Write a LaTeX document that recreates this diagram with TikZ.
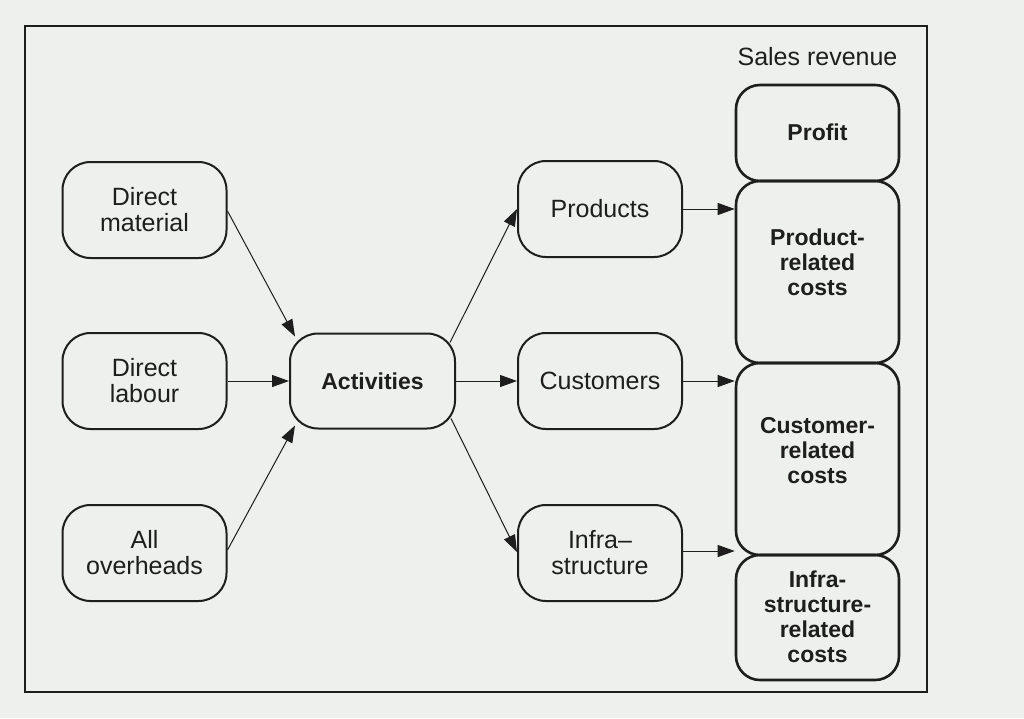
\documentclass[tikz,border=0pt]{standalone}
\usepackage{fontspec}
\setmainfont{Liberation Sans}
\usetikzlibrary{arrows.meta}
\definecolor{bg}{RGB}{238,240,237}
\definecolor{ink}{RGB}{30,30,30}
\begin{document}
\begin{tikzpicture}[x=1pt,y=-1pt,
 box/.style={draw=ink, line width=2pt, rounded corners=28pt, minimum width=164pt, minimum height=96pt, inner sep=0pt, align=center, font=\fontsize{25}{26}\selectfont, text=ink},
 rbox/.style={draw=ink, line width=2.6pt, rounded corners=24pt, minimum width=163pt, inner sep=0pt},
 rtext/.style={align=center, font=\bfseries\fontsize{23}{25}\selectfont, text=ink, inner sep=0pt},
 conn/.style={draw=ink, line width=1pt, -{Triangle[length=17pt,width=12pt]}}]
\fill[bg] (0,0) rectangle (1024,718);
\useasboundingbox (0,0) rectangle (1024,718);
\draw[ink, line width=2pt] (25,26) rectangle (927,692);

\node[box] (dm) at (144.5,210) {Direct\\material};
\node[box] (dl) at (144.5,381) {Direct\\labour};
\node[box] (ao) at (144.5,553) {All\\overheads};
\node[box, font=\bfseries\fontsize{23}{26}\selectfont, minimum width=165pt, minimum height=95pt] (act) at (372.5,381) {Activities};
\node[box] (prod) at (600,209) {Products};
\node[box] (cust) at (600,381) {Customers};
\node[box] (infra) at (600,553) {Infra--\\structure};

\node[font=\fontsize{25}{26}\selectfont, text=ink, anchor=base] (sales) at (817.5,65) {Sales revenue};
\node[rbox, minimum height=96pt] (profit) at (817.5,133) {};
\node[rbox, minimum height=182pt] (prc) at (817.5,272) {};
\node[rbox, minimum height=192pt] (crc) at (817.5,459) {};
\node[rbox, minimum height=125pt] (irc) at (817.5,617.5) {};

\node[rtext] (profitt) at ([yshift=1pt]profit.center) {Profit};
\node[rtext] (prct) at ([yshift=10pt]prc.center) {Product-\\related\\costs};
\node[rtext] (crct) at ([yshift=8pt]crc.center) {Customer-\\related\\costs};
\node[rtext] (irct) at ([yshift=1pt]irc.center) {Infra-\\structure-\\related\\costs};

\draw[conn] ([yshift=-1pt]dm.east) -- ([shift={(6pt,-4pt)}]act.north west);
\draw[conn] (dl.east) -- (act.west);
\draw[conn] ([yshift=3pt]ao.east) -- ([shift={(6pt,4pt)}]act.south west);
\draw[conn] ([shift={(-6pt,-10pt)}]act.north east) -- (prod.west);
\draw[conn] (act.east) -- (cust.west);
\draw[conn] ([shift={(-5pt,11pt)}]act.south east) -- ([yshift=1pt]infra.west);
\draw[conn] (prod.east) -- (prod.east -| prc.west);
\draw[conn] (cust.east) -- (cust.east -| crc.west);
\draw[conn] ([yshift=2pt]infra.east) -- ([yshift=2pt]infra.east -| crc.west);
\end{tikzpicture}
\end{document}
